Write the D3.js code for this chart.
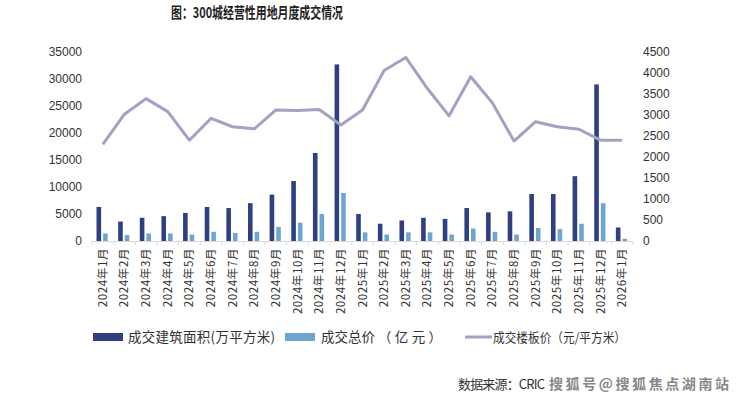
<!DOCTYPE html>
<html>
<head>
<meta charset="utf-8">
<script src="https://cdn.jsdelivr.net/npm/d3@7.9.0/dist/d3.min.js"></script>
<style>
  body { margin: 0; background: #fff; }
  svg { display: block; font-family: "Liberation Sans", Arial, sans-serif; }
  .cjk { font-family: "Noto Sans CJK SC", sans-serif; }
</style>
</head>
<body>
<svg id="chart" width="740" height="393"></svg>
<script>
const months = [
  '2024年1月','2024年2月','2024年3月','2024年4月','2024年5月','2024年6月',
  '2024年7月','2024年8月','2024年9月','2024年10月','2024年11月','2024年12月',
  '2025年1月','2025年2月','2025年3月','2025年4月','2025年5月','2025年6月',
  '2025年7月','2025年8月','2025年9月','2025年10月','2025年11月','2025年12月',
  '2026年1月'
];
// 成交建筑面积（万平方米）
const area = [6300, 3600, 4300, 4600, 5200, 6300, 6100, 7000, 8600, 11100, 16300, 32700,
  5000, 3200, 3800, 4300, 4100, 6100, 5300, 5500, 8700, 8700, 12000, 29000, 2500];
// 成交总价（亿元）
const total = [1400, 1100, 1400, 1400, 1200, 1700, 1500, 1700, 2600, 3400, 5000, 8900,
  1600, 1200, 1600, 1600, 1200, 2300, 1700, 1200, 2400, 2200, 3200, 7000, 400];
// 成交楼板价（元/平方米）
const price = [2300, 3020, 3390, 3080, 2400, 2920, 2720, 2670, 3120, 3110, 3130, 2760,
  3120, 4060, 4370, 3630, 2980, 3910, 3290, 2380, 2840, 2720, 2660, 2400, 2400];
const leftTicks = d3.range(0, 35001, 5000);
const rightTicks = d3.range(0, 4501, 500);

const svg = d3.select('#chart');
const mLeft = 92, mRight = 633, mTop = 52, mBottom = 241;

const x = d3.scaleBand().domain(months).range([mLeft, mRight]);
const yL = d3.scaleLinear().domain([0, 35000]).range([mBottom, mTop]);
const yR = d3.scaleLinear().domain([0, 4500]).range([mBottom, mTop]);

const darkColor = '#2f3f7f', lightColor = '#6ea6cf', lineColor = '#a2a2c2';

// title
svg.append('text').attr('class', 'cjk')
  .attr('x', 171).attr('y', 18)
  .attr('font-size', 15).attr('font-weight', 'bold').attr('fill', '#222')
  .attr('textLength', 172).attr('lengthAdjust', 'spacingAndGlyphs')
  .text('图：300城经营性用地月度成交情况');

// left axis labels
svg.append('g').selectAll('text').data(leftTicks).join('text')
  .attr('x', 82).attr('y', d => yL(d) + 4).attr('text-anchor', 'end')
  .attr('font-size', 12).attr('fill', '#333').text(d => d);

// right axis labels
svg.append('g').selectAll('text').data(rightTicks).join('text')
  .attr('x', 643).attr('y', d => yR(d) + 4).attr('text-anchor', 'start')
  .attr('font-size', 12).attr('fill', '#333').text(d => d);

// bars
const bw = 4.6;
svg.append('g').selectAll('rect').data(area).join('rect')
  .attr('x', (d, i) => x(months[i]) + x.bandwidth() / 2 - 6.3)
  .attr('y', d => yL(d)).attr('width', bw).attr('height', d => mBottom - yL(d))
  .attr('fill', darkColor);
svg.append('g').selectAll('rect').data(total).join('rect')
  .attr('x', (d, i) => x(months[i]) + x.bandwidth() / 2 + 0.3)
  .attr('y', d => yL(d)).attr('width', bw).attr('height', d => mBottom - yL(d))
  .attr('fill', lightColor);

// x axis
const xAxis = svg.append('g');
xAxis.append('line').attr('x1', mLeft).attr('x2', mRight).attr('y1', mBottom + 0.5).attr('y2', mBottom + 0.5)
  .attr('stroke', '#d9d9d9');
xAxis.selectAll('line.tick').data(months.concat([null])).join('line').attr('class', 'tick')
  .attr('x1', (d, i) => mLeft + i * x.bandwidth()).attr('x2', (d, i) => mLeft + i * x.bandwidth())
  .attr('y1', mBottom).attr('y2', mBottom + 4).attr('stroke', '#d9d9d9');
xAxis.selectAll('text').data(months).join('text').attr('class', 'cjk')
  .attr('transform', d => `translate(${x(d) + x.bandwidth() / 2 + 4},248) rotate(-90)`)
  .attr('text-anchor', 'end').attr('font-size', 11.5).attr('fill', '#333')
  .attr('letter-spacing', 0.6).text(d => d);

// line
const line = d3.line().x((d, i) => x(months[i]) + x.bandwidth() / 2).y(d => yR(d));
svg.append('path').datum(price).attr('d', line)
  .attr('fill', 'none').attr('stroke', lineColor).attr('stroke-width', 3)
  .attr('stroke-linejoin', 'round');

// legend
const lg = svg.append('g').attr('class', 'cjk').attr('font-size', 13.5).attr('fill', '#333');
lg.append('rect').attr('x', 93).attr('y', 333).attr('width', 30).attr('height', 8).attr('fill', darkColor);
lg.append('text').attr('x', 128).attr('y', 342).attr('textLength', 147).text('成交建筑面积(万平方米)');
lg.append('rect').attr('x', 285).attr('y', 333).attr('width', 30).attr('height', 8).attr('fill', lightColor);
lg.append('text').attr('x', 321).attr('y', 342).text('成交总价');
lg.append('text').attr('x', 378).attr('y', 342).attr('textLength', 64).attr('lengthAdjust', 'spacing')
  .text('（亿元）');
lg.append('line').attr('x1', 465).attr('x2', 492).attr('y1', 337).attr('y2', 337)
  .attr('stroke', lineColor).attr('stroke-width', 3);
lg.append('text').attr('x', 493).attr('y', 342).attr('font-size', 13)
  .attr('textLength', 133).attr('lengthAdjust', 'spacingAndGlyphs').text('成交楼板价（元/平方米）');

// source
svg.append('text').attr('class', 'cjk').attr('x', 458).attr('y', 389)
  .attr('font-size', 13).attr('fill', '#333').attr('textLength', 87).text('数据来源：CRIC');
svg.append('text').attr('class', 'cjk').attr('x', 549).attr('y', 389)
  .attr('font-size', 14).attr('font-weight', 'bold').attr('fill', '#555').attr('opacity', 0.7)
  .attr('textLength', 180).text('搜狐号@搜狐焦点湖南站');
</script>
</body>
</html>
